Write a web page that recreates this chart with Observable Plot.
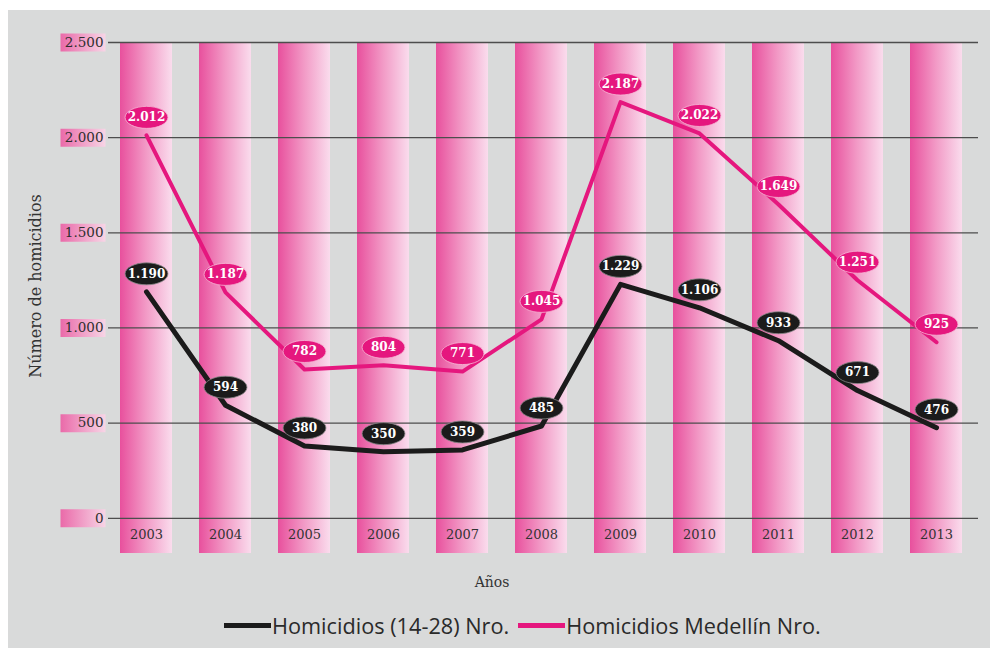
<!DOCTYPE html>
<html>
<head>
<meta charset="utf-8">
<script src="https://cdn.jsdelivr.net/npm/d3@7"></script>
<script src="https://cdn.jsdelivr.net/npm/@observablehq/plot@0.6"></script>
<style>
  html, body { margin: 0; padding: 0; background: #ffffff; }
  body { width: 990px; height: 648px; overflow: hidden; position: relative; }
  #panel { position: absolute; left: 8px; top: 10px; width: 982px; height: 638px; background: #d9dada; }
  #chart { position: absolute; left: 0; top: 0; }
  #xtitle { position: absolute; left: 0; top: 574px; width: 984px; text-align: center;
            font-family: "DejaVu Serif", serif; font-size: 14px; color: #333; }
  #legend { position: absolute; left: 224px; top: 610px; height: 30px; display: flex; align-items: center;
            font-family: "Open Sans", sans-serif; font-size: 21.7px; color: #2a2a2a; white-space: nowrap; }
  #legend .sw { display: inline-block; width: 47px; height: 5px; margin-right: 1px; }
  #legend .item { display: flex; align-items: center; margin-right: 9px; }
</style>
</head>
<body>
<div id="panel"></div>
<div id="chart"></div>
<div id="xtitle">Años</div>
<div id="legend">
  <span class="item"><span class="sw" style="background:#1b1b1b"></span>Homicidios (14-28) Nro.</span>
  <span class="item"><span class="sw" style="background:#e5177e"></span>Homicidios Medellín Nro.</span>
</div>
<script>
const years = ["2003","2004","2005","2006","2007","2008","2009","2010","2011","2012","2013"];
const homicidiosJovenes = [1190, 594, 380, 350, 359, 485, 1229, 1106, 933, 671, 476];
const homicidiosMedellin = [2012, 1187, 782, 804, 771, 1045, 2187, 2022, 1649, 1251, 925];
const yTicks = [0, 500, 1000, 1500, 2000, 2500];
const yDomain = [-185, 2500];

const fmt = d3.formatLocale({decimal: ",", thousands: ".", grouping: [3], currency: ["$", ""]}).format(",d");

const rowsJ = years.map((year, i) => ({year, value: homicidiosJovenes[i], label: fmt(homicidiosJovenes[i])}));
const rowsM = years.map((year, i) => ({year, value: homicidiosMedellin[i], label: fmt(homicidiosMedellin[i])}));

const PINK = "#e5177e";
const BLACK = "#1b1b1b";

// ellipse symbol for value labels
const ellipse = {
  draw(ctx, size) {
    const r = Math.sqrt(size / Math.PI);
    const a = r * 1.95, b = r, k = 0.5523;
    ctx.moveTo(a, 0);
    ctx.bezierCurveTo(a, b * k, a * k, b, 0, b);
    ctx.bezierCurveTo(-a * k, b, -a, b * k, -a, 0);
    ctx.bezierCurveTo(-a, -b * k, -a * k, -b, 0, -b);
    ctx.bezierCurveTo(a * k, -b, a, -b * k, a, 0);
    ctx.closePath();
  }
};
// box symbol behind y tick labels
const box = {
  draw(ctx, size) {
    ctx.rect(-32, -9, 45, 18);
  }
};

const labelDy = -18;

const plot = Plot.plot({
  width: 990,
  height: 560,
  marginLeft: 92,
  marginRight: 0,
  marginTop: 42,
  marginBottom: 7,
  style: {background: "transparent", fontFamily: "'DejaVu Serif', serif", overflow: "visible"},
  x: {type: "band", domain: years, padding: 0.34, axis: null},
  y: {domain: yDomain, axis: null},
  marks: [
    Plot.barY(years, {x: d => d, y1: yDomain[0], y2: yDomain[1], fill: "url(#barGrad)"}),
    Plot.ruleY(yTicks, {y: d => d, insetLeft: 16, insetRight: 12, stroke: "#4d4d4d", strokeWidth: 1.3}),
    Plot.dot(yTicks, {y: d => d, frameAnchor: "left", symbol: box, r: 5, fill: "url(#tickGrad)", stroke: null}),
    Plot.text(yTicks, {y: d => d, frameAnchor: "left", dx: 11, textAnchor: "end", text: d => fmt(d),
      fontSize: 13.5, fill: "#2e2e2e"}),
    Plot.text(years, {x: d => d, frameAnchor: "bottom", dy: -15, text: d => d, fontSize: 13, fill: "#333"}),
    Plot.line(rowsM, {x: "year", y: "value", stroke: PINK, strokeWidth: 4, strokeLinejoin: "round"}),
    Plot.line(rowsJ, {x: "year", y: "value", stroke: BLACK, strokeWidth: 5, strokeLinejoin: "round"}),
    Plot.dot(rowsM, {x: "year", y: "value", symbol: ellipse, r: 11, fill: PINK, stroke: "#f6b8d6", strokeWidth: 0.8, dy: labelDy}),
    Plot.text(rowsM, {x: "year", y: "value", text: "label", fill: "white", fontWeight: "bold", fontSize: 12, dy: labelDy}),
    Plot.dot(rowsJ, {x: "year", y: "value", symbol: ellipse, r: 11, fill: BLACK, stroke: "#888", strokeWidth: 0.8, dy: labelDy}),
    Plot.text(rowsJ, {x: "year", y: "value", text: "label", fill: "white", fontWeight: "bold", fontSize: 12, dy: labelDy}),
    Plot.text(["Número de homicidios"], {frameAnchor: "left", textAnchor: "middle", rotate: -90, dx: -57, dy: -12,
      text: d => d, fontSize: 16, fill: "#333"})
  ]
});

// gradients
const svg = d3.select(plot.tagName.toLowerCase() === "svg" ? plot : plot.querySelector("svg"));
const defs = svg.insert("defs", ":first-child");
const g1 = defs.append("linearGradient").attr("id", "barGrad").attr("x1", 0).attr("x2", 1).attr("y1", 0).attr("y2", 0);
g1.append("stop").attr("offset", "0%").attr("stop-color", "#e8509d");
g1.append("stop").attr("offset", "50%").attr("stop-color", "#f29ac6");
g1.append("stop").attr("offset", "100%").attr("stop-color", "#fadced");
const g2 = defs.append("linearGradient").attr("id", "tickGrad").attr("x1", 0).attr("x2", 1).attr("y1", 0).attr("y2", 0);
g2.append("stop").attr("offset", "0%").attr("stop-color", "#ea6aa9");
g2.append("stop").attr("offset", "100%").attr("stop-color", "#f7d5e6");

document.getElementById("chart").appendChild(plot);
</script>
</body>
</html>
